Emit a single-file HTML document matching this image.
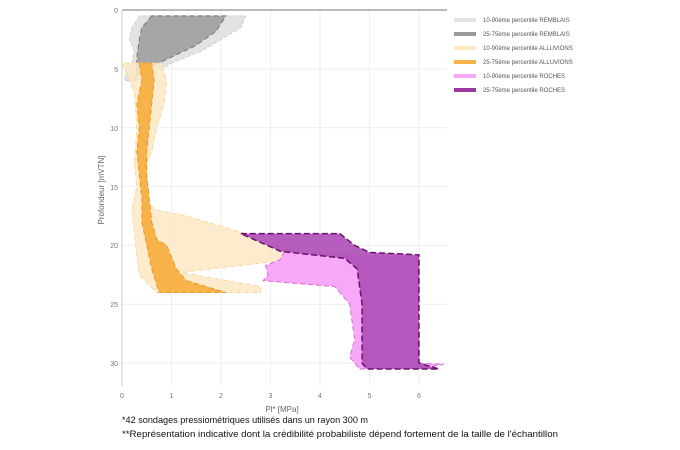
<!DOCTYPE html>
<html><head><meta charset="utf-8"><style>
body{margin:0;background:#fff;width:680px;height:450px;overflow:hidden;font-family:"Liberation Sans",sans-serif}
</style></head><body>
<svg width="680" height="450" xmlns="http://www.w3.org/2000/svg" style="position:absolute;left:0;top:0">
<g stroke="#eee" stroke-width="1">
<line x1="171.5" y1="10" x2="171.5" y2="386"/><line x1="221" y1="10" x2="221" y2="386"/><line x1="270.5" y1="10" x2="270.5" y2="386"/><line x1="320" y1="10" x2="320" y2="386"/><line x1="369.5" y1="10" x2="369.5" y2="386"/><line x1="419" y1="10" x2="419" y2="386"/>
<line x1="122" y1="68.9" x2="447" y2="68.9"/><line x1="122" y1="127.7" x2="447" y2="127.7"/><line x1="122" y1="186.6" x2="447" y2="186.6"/><line x1="122" y1="245.4" x2="447" y2="245.4"/><line x1="122" y1="304.3" x2="447" y2="304.3"/><line x1="122" y1="363.1" x2="447" y2="363.1"/>
</g>
<line x1="122" y1="10" x2="447" y2="10" stroke="#777" stroke-width="1"/>
<line x1="122" y1="10" x2="122" y2="386" stroke="#ccc" stroke-width="1"/>
<g transform="translate(122,10) scale(49.5,11.77)" stroke-linejoin="round">
<path fill="#e3e3e3" stroke="#d0d0d0" stroke-dasharray="4 2" vector-effect="non-scaling-stroke" d="M0.35,0.5 L0.2,1.5 L0.15,2.5 L0.25,3.5 L0.2,4.5 L0.1,5 L0.05,6 L0.3,6 L0.6,5.5 L1.0,4.5 L1.6,3.5 L2.0,2.5 L2.4,1.5 L2.5,0.5Z"/>
<path fill="#a6a6a6" stroke="#777" stroke-dasharray="5 3" vector-effect="non-scaling-stroke" d="M0.6,0.5 L0.4,1.5 L0.35,2.5 L0.3,4 L0.3,5.5 L0.25,6 L0.3,5.5 L0.5,5 L0.9,4.2 L1.5,3 L1.9,1.8 L2.1,0.5Z"/>
<path fill="#fde8c4" fill-opacity="0.85" stroke="#f8d8a0" stroke-dasharray="5 3" vector-effect="non-scaling-stroke" d="M0,4.5 L0.25,7 L0.3,10 L0.25,13 L0.3,15 L0.2,17 L0.25,19 L0.3,21 L0.35,22.5 L0.7,24 L2.8,24 L2.8,23.5 L1.2,22.3 L1.8,22 L3.2,21.3 L3.5,20.5 L2.5,19 L1.3,17.5 L0.7,17 L0.55,16.5 L0.4,14 L0.6,12 L0.7,10 L0.85,8 L0.9,6 L0.8,4.5Z"/>
<path fill="#f8b24a" stroke="#e89a20" stroke-dasharray="5 3" vector-effect="non-scaling-stroke" d="M0.35,4.5 L0.4,6 L0.3,8 L0.35,10 L0.3,12 L0.35,14 L0.4,16 L0.4,18 L0.5,20 L0.6,22 L0.75,24 L2.1,24 L1.3,23 L1.1,22 L1.0,21 L0.9,20 L0.7,19.5 L0.6,18 L0.55,16 L0.5,14 L0.5,12 L0.55,10 L0.6,8 L0.65,6 L0.6,4.5Z"/>
<path fill="#f7a8f7" stroke="#d070d0" stroke-dasharray="5 3" vector-effect="non-scaling-stroke" d="M3.3,20.3 L3.6,20.7 L6.0,21 L6.0,30 L6.5,30.1 L6.1,30.4 L4.8,30.5 L4.6,29.5 L4.7,28 L4.6,25 L4.3,23.5 L2.85,23 L2.95,22.5 L2.9,21.7 L3.2,21.2Z"/>
<path fill="#b050b8" fill-opacity="0.92" stroke="#6a1070" stroke-dasharray="6 3" stroke-width="1.5" vector-effect="non-scaling-stroke" d="M2.4,19 L4.4,19 L4.7,20 L5.0,20.6 L6.0,20.8 L6.0,30 L6.4,30.5 L4.95,30.5 L4.85,30 L4.85,25 L4.75,22 L4.5,21.1 L3.2,20.5Z"/>
</g>
<g font-size="7" fill="#777" text-anchor="middle">
<text x="122" y="398">0</text><text x="171.5" y="398">1</text><text x="221" y="398">2</text><text x="270.5" y="398">3</text><text x="320" y="398">4</text><text x="369.5" y="398">5</text><text x="419" y="398">6</text>
</g>
<g font-size="7" fill="#777" text-anchor="end">
<text x="118" y="13">0</text><text x="118" y="72">5</text><text x="118" y="131">10</text><text x="118" y="190">15</text><text x="118" y="248">20</text><text x="118" y="307">25</text><text x="118" y="366">30</text>
</g>
<text x="282" y="412" font-size="8" fill="#666" text-anchor="middle">Pl* [MPa]</text>
<text transform="translate(104,190) rotate(-90)" font-size="8" fill="#666" text-anchor="middle">Profondeur [mVTN]</text>
<g font-size="6" fill="#555">
<rect x="454" y="18" width="22" height="4" fill="#e3e3e3"/><text x="483" y="22">10-90ème percentile REMBLAIS</text>
<rect x="454" y="32" width="22" height="4" fill="#999"/><text x="483" y="36">25-75ème percentile REMBLAIS</text>
<rect x="454" y="46" width="22" height="4" fill="#fde8c4"/><text x="483" y="50">10-90ème percentile ALLUVIONS</text>
<rect x="454" y="60" width="22" height="4" fill="#f8b24a"/><text x="483" y="64">25-75ème percentile ALLUVIONS</text>
<rect x="454" y="74" width="22" height="4" fill="#f7a8f7"/><text x="483" y="78">10-90ème percentile ROCHES</text>
<rect x="454" y="88" width="22" height="4" fill="#9a3aa0"/><text x="483" y="92">25-75ème percentile ROCHES</text>
</g>
<text x="122" y="423" font-size="9.5" fill="#111" textLength="246" lengthAdjust="spacingAndGlyphs">*42 sondages pressiométriques utilisés dans un rayon 300 m</text>
<text x="122" y="437" font-size="9.5" fill="#111" textLength="436" lengthAdjust="spacingAndGlyphs">**Représentation indicative dont la crédibilité probabiliste dépend fortement de la taille de l'échantillon</text>
</svg>
</body></html>
